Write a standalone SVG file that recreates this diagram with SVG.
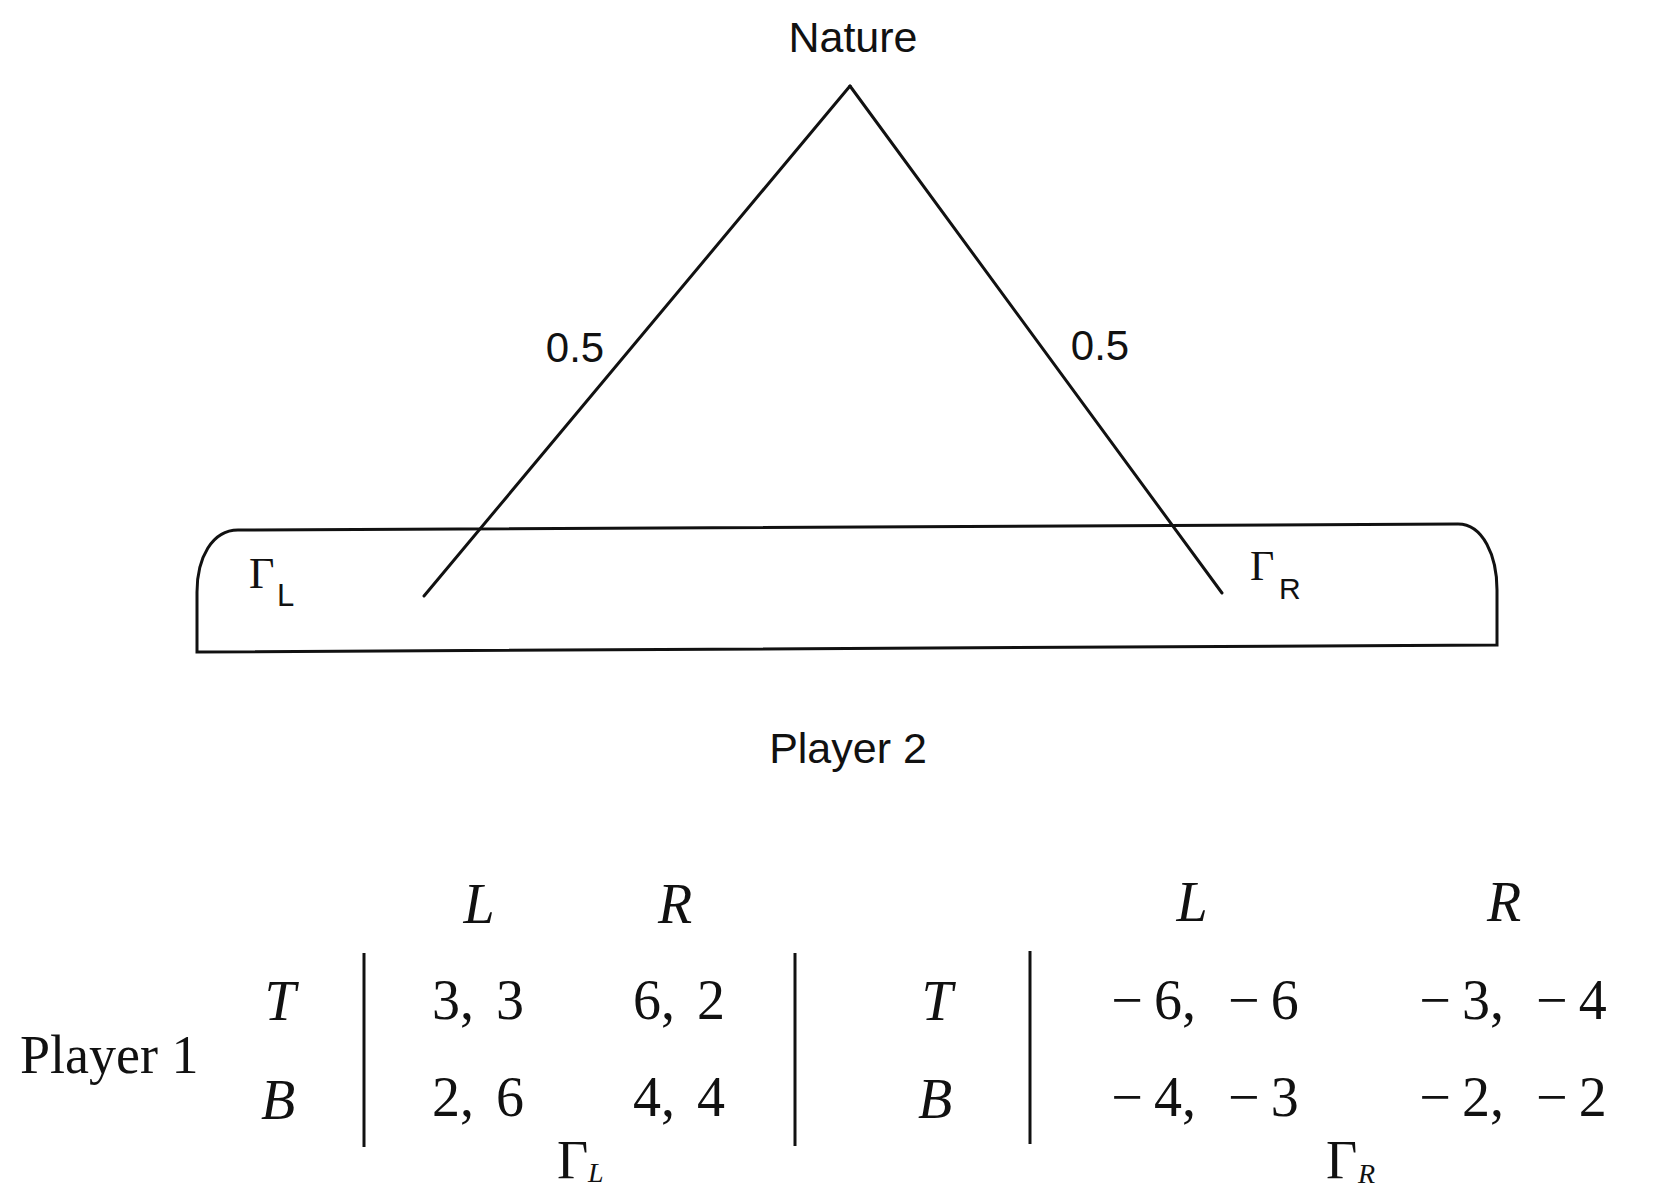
<svg xmlns="http://www.w3.org/2000/svg" width="1679" height="1190" viewBox="0 0 1679 1190">
<style>
.sans{font-family:"Liberation Sans",Arial,sans-serif;fill:#111}
.serif{font-family:"Liberation Serif","Times New Roman",serif;fill:#111}
.it{font-style:italic}
.ln{stroke:#111;stroke-width:3;fill:none;stroke-linecap:round}
.bar{stroke:#111;stroke-width:3}
</style>
<rect width="1679" height="1190" fill="#fff"/>
<g id="nature">
<text class="sans" x="853" y="52" font-size="43" text-anchor="middle">Nature</text>
</g>
<g id="connectors">
<line class="ln" x1="850" y1="86" x2="424" y2="596"/>
<line class="ln" x1="850" y1="86" x2="1222" y2="593"/>
<text class="sans" x="575" y="362" font-size="42" text-anchor="middle">0.5</text>
<text class="sans" x="1100" y="360" font-size="42" text-anchor="middle">0.5</text>
</g>
<g id="info-set">
<path class="ln" d="M197,652 L197,592 C197,558 212,530 238,530 L1458,524 C1483,524 1497,556 1497,590 L1497,645 Z"/>
</g>
<g id="gamma-L">
<text class="serif" x="249" y="588" font-size="44">Γ</text>
<text class="sans" x="277" y="606" font-size="31">L</text>
</g>
<g id="gamma-R">
<text class="serif" x="1250" y="580" font-size="42">Γ</text>
<text class="sans" x="1279" y="599" font-size="30">R</text>
</g>
<g id="player2">
<text class="sans" x="848" y="763" font-size="43" text-anchor="middle">Player 2</text>
</g>
<g id="payoff-tables">
<text class="serif" x="20" y="1073" font-size="54">Player 1</text>
<g class="serif it" font-size="56" text-anchor="middle">
<text x="479" y="923">L</text>
<text x="675" y="923">R</text>
<text x="280" y="1020">T</text>
<text x="278" y="1119">B</text>
<text x="1192" y="921">L</text>
<text x="1504" y="921">R</text>
<text x="937" y="1020">T</text>
<text x="935" y="1118">B</text>
</g>
<line class="bar" x1="364" y1="953" x2="364" y2="1147"/>
<line class="bar" x1="795" y1="953" x2="795" y2="1146"/>
<line class="bar" x1="1030" y1="951" x2="1030" y2="1144"/>
<g class="serif" font-size="56" text-anchor="middle" word-spacing="8">
<text x="478" y="1019">3, 3</text>
<text x="679" y="1019">6, 2</text>
<text x="478" y="1116">2, 6</text>
<text x="679" y="1116">4, 4</text>
</g>
<g class="serif" font-size="56" text-anchor="middle" word-spacing="18">
<text x="1205" y="1019">−&#8201;6, −&#8201;6</text>
<text x="1513" y="1019">−&#8201;3, −&#8201;4</text>
<text x="1205" y="1116">−&#8201;4, −&#8201;3</text>
<text x="1513" y="1116">−&#8201;2, −&#8201;2</text>
</g>
<text class="serif" x="557" y="1178" font-size="54">Γ</text>
<text class="serif it" x="588" y="1182" font-size="28">L</text>
<text class="serif" x="1326" y="1178" font-size="54">Γ</text>
<text class="serif it" x="1358" y="1183" font-size="28">R</text>
</g>
</svg>
